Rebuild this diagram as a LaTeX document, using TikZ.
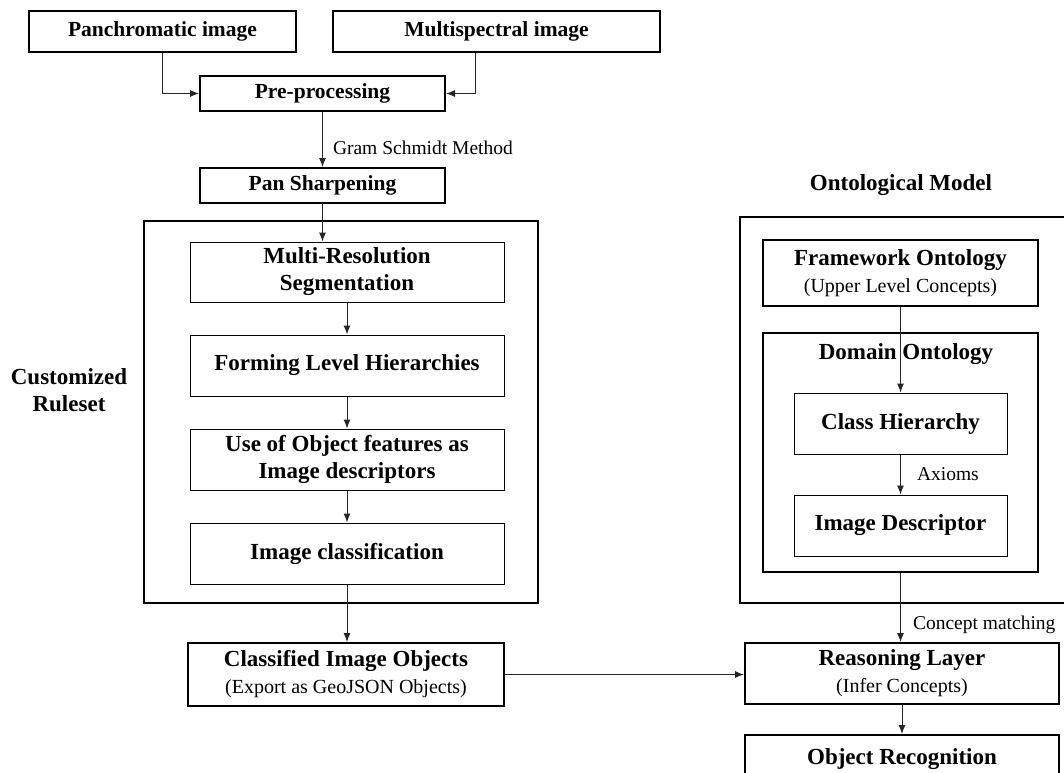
\documentclass[tikz,border=0pt]{standalone}
\usepackage{fontspec}
\setmainfont{Liberation Serif}
\usetikzlibrary{arrows.meta,positioning}
\newcommand{\subtxt}[1]{{\normalfont\fontsize{20}{26}\selectfont #1}}

\begin{document}
\begin{tikzpicture}[
  x=1pt, y=-1pt,
  node distance=32pt,
  box/.style={draw, line width=1pt, align=center, inner sep=0pt, font=\bfseries\fontsize{23}{27}\selectfont, minimum width=314pt, minimum height=61pt},
  thickbox/.style={box, line width=2pt},
  topbox/.style={thickbox, font=\bfseries\fontsize{21.5}{24}\selectfont, minimum height=41pt},
  frame/.style={draw, line width=2pt, inner sep=0pt},
  heading/.style={font=\bfseries\fontsize{23}{27}\selectfont, align=center, inner sep=0pt},
  edgelabel/.style={font=\fontsize{19.5}{22}\selectfont, inner sep=0pt, anchor=west},
  arr/.style={draw=black!85, line width=1pt, -{Latex[length=9pt,width=7pt]}}
]
\useasboundingbox (0,0) rectangle (1064,772);

% inputs
\node[topbox, minimum width=267pt] (pan) at (162.5,31.5) {Panchromatic image};
\node[topbox, minimum width=327pt] (ms) at (496.5,31.5) {Multispectral image};
\node[topbox, minimum width=245pt, minimum height=35pt] (pre) at (322.5,93.5) {Pre-processing};
\node[topbox, minimum width=245pt, minimum height=35pt, below=55pt of pre] (pansharp) {Pan Sharpening};

% customized ruleset
\node[frame, minimum width=394pt, minimum height=382pt] (ruleset) at (341,412) {};
\node[heading] (rulelabel) at (69,390) {Customized\\Ruleset};
\node[box, minimum height=60pt] (mrs) at (347,272) {Multi-Resolution\\Segmentation};
\node[box, below=of mrs] (levels) {Forming Level Hierarchies};
\node[box, below=of levels] (features) {Use of Object features as\\Image descriptors};
\node[box, below=of features] (classif) {Image classification};
\node[thickbox, minimum width=316pt, minimum height=63pt] (classobj) at (346,674.5) {Classified Image Objects\\\subtxt{(Export as GeoJSON Objects)}};

% ontological model
\node[heading] (ontolabel) at (901,185) {Ontological Model};
\node[frame, minimum width=330pt, minimum height=386pt] (onto) at (905,410) {};
\node[thickbox, minimum width=275pt, minimum height=66pt] (framework) at (900.5,273) {Framework Ontology\\\subtxt{(Upper Level Concepts)}};
\node[frame, minimum width=275pt, minimum height=239pt] (domain) at (900.5,452.5) {};
\node[heading] (domainlabel) at (906,354) {Domain Ontology};
\node[box, minimum width=213pt] (classh) at (900.5,423.5) {Class Hierarchy};
\node[box, minimum width=213pt, below=40pt of classh] (imgdesc) {Image Descriptor};

% reasoning
\node[thickbox] (reason) at (902,673.5) {Reasoning Layer\\\subtxt{(Infer Concepts)}};
\node[thickbox, minimum height=48pt, below=29pt of reason] (objrec) {Object Recognition};

% connectors
\draw[arr] (pan.south) |- (pre.west);
\draw[arr] ([xshift=-21.5pt]ms.south) |- (pre.east);
\draw[arr] (pre) -- node[edgelabel, pos=0.65, xshift=10pt] {Gram Schmidt Method} (pansharp);
\draw[arr] (pansharp.south) -- (pansharp.south |- mrs.north);
\draw[arr] (mrs) -- (levels);
\draw[arr] (levels) -- (features);
\draw[arr] (features) -- (classif);
\draw[arr] (classif.south) -- (classif.south |- classobj.north);
\draw[arr] (classobj.east) -- (classobj.east -| reason.west);
\draw[arr] (framework.south) -- (classh.north);
\draw[arr] (classh) -- node[edgelabel, pos=0.5, xshift=16pt] {Axioms} (imgdesc);
\draw[arr] (domain.south) -- node[edgelabel, pos=0.75, xshift=12pt] {Concept matching} (domain.south |- reason.north);
\draw[arr] (reason) -- (objrec);

\end{tikzpicture}
\end{document}
